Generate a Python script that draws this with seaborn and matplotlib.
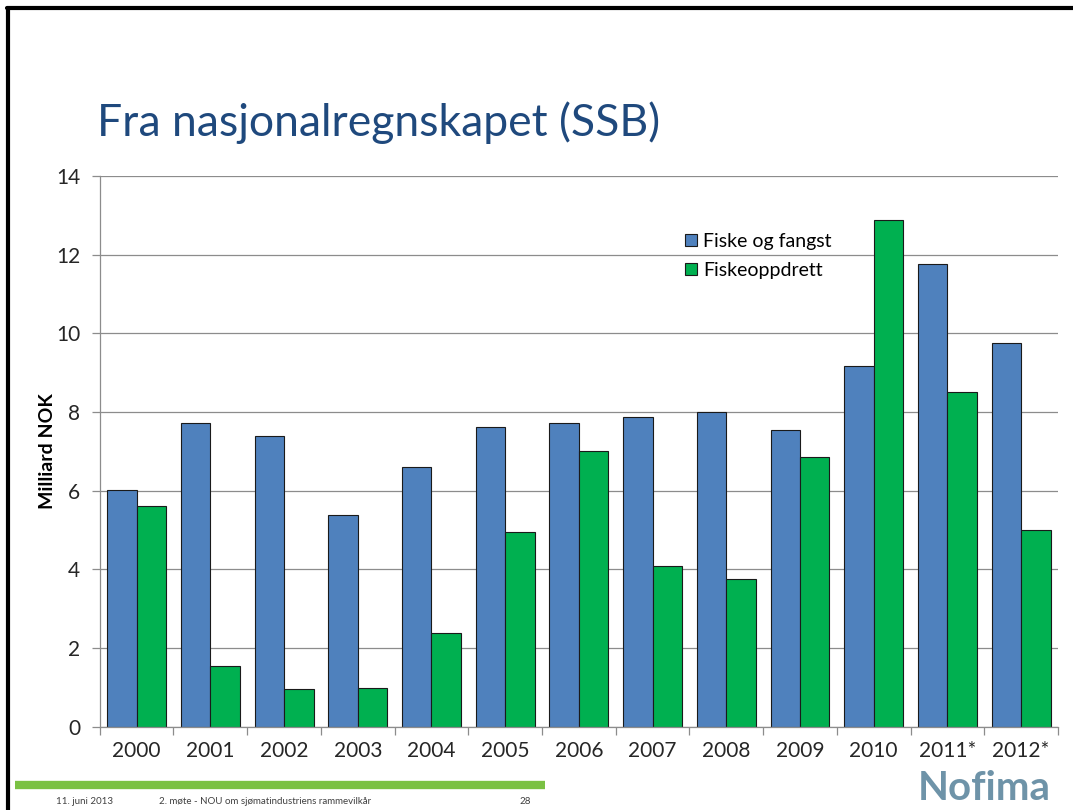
import pandas as pd
import matplotlib
matplotlib.use('Agg')
import matplotlib.pyplot as plt
import matplotlib.lines as mlines
import seaborn as sns

# ── Data ─────────────────────────────────────
years = ['2000', '2001', '2002', '2003', '2004', '2005', '2006',
         '2007', '2008', '2009', '2010', '2011*', '2012*']
fiske_fangst = [6.02, 7.72, 7.39, 5.39, 6.60, 7.62, 7.72,
                7.88, 8.00, 7.55, 9.17, 11.76, 9.76]
fiskeoppdrett = [5.61, 1.55, 0.97, 0.99, 2.39, 4.95, 7.01,
                 4.09, 3.76, 6.86, 12.88, 8.51, 5.00]
series_names = ['Fiske og fangst', 'Fiskeoppdrett']

BLUE = '#4F81BD'
GREEN = '#00B050'
TITLE_COLOR = '#1F497D'
TEXT = '#262626'

df = pd.DataFrame({
    'year': years * 2,
    'value': fiske_fangst + fiskeoppdrett,
    'series': [series_names[0]] * len(years) + [series_names[1]] * len(years),
})

sns.set_theme(style='white')
plt.rcParams['font.family'] = ['Lato', 'DejaVu Sans']

fig = plt.figure(figsize=(10.73, 8.10), dpi=100)
ax = fig.add_axes([0.093, 0.1025, 0.893, 0.6805])

sns.barplot(data=df, x='year', y='value', hue='series', order=years,
            hue_order=series_names, palette=[BLUE, GREEN], saturation=1,
            width=0.8, edgecolor='#1a1a1a', linewidth=0.8, ax=ax)

ax.set_ylim(0, 14)
ax.set_xlim(-0.5, len(years) - 0.5)
ax.set_yticks(range(0, 15, 2))
ax.yaxis.grid(True, color='#8c8c8c', linewidth=0.9)
ax.set_axisbelow(True)

# ticks between categories on the x axis
ax.set_xticks(range(len(years)))
ax.set_xticklabels(years, fontsize=15, color=TEXT)
ax.set_xticks([i - 0.5 for i in range(len(years) + 1)], minor=True)
ax.tick_params(axis='x', which='major', length=0, pad=10)
ax.tick_params(axis='x', which='minor', length=6, color='#8c8c8c', width=0.9, direction='out', bottom=True)
ax.tick_params(axis='y', length=6, color='#8c8c8c', width=0.9, labelsize=15,
               labelcolor=TEXT, pad=8, left=True)

for side in ['top', 'right']:
    ax.spines[side].set_visible(False)
for side in ['left', 'bottom']:
    ax.spines[side].set_color('#8c8c8c')
    ax.spines[side].set_linewidth(0.9)

ax.set_xlabel('')
ax.set_ylabel('Milliard NOK', fontsize=14, fontweight='bold', color='black', labelpad=0)

leg = ax.legend(loc='upper left', bbox_to_anchor=(0.593, 0.928), frameon=False,
                fontsize=14, handlelength=0.6, handleheight=0.6, handletextpad=0.3,
                labelspacing=0.62)
for t in leg.get_texts():
    t.set_color('black')

# ── Slide decoration ─────────────────────────
fig.text(0.09, 0.832, 'Fra nasjonalregnskapet (SSB)', fontsize=32, color=TITLE_COLOR)

fig.add_artist(mlines.Line2D([0.0065, 1.0], [0.99, 0.99], color='black', linewidth=3,
                             transform=fig.transFigure))
fig.add_artist(mlines.Line2D([0.0075, 0.0075], [0.0, 0.99], color='black', linewidth=3,
                             transform=fig.transFigure))
fig.add_artist(mlines.Line2D([0.014, 0.508], [0.031, 0.031], color='#7AC143', linewidth=6,
                             transform=fig.transFigure, solid_capstyle='butt'))

fig.text(0.052, 0.008, '11. juni 2013', fontsize=7, color='#404040')
fig.text(0.148, 0.008, '2. møte - NOU om sjømatindustriens rammevilkår', fontsize=7, color='#404040')
fig.text(0.484, 0.008, '28', fontsize=7, color='#404040')
fig.text(0.855, 0.012, 'Nofima', fontsize=29, fontweight='bold', color='#6E93A8')

plt.savefig('out.png', dpi=100)
plt.close()
